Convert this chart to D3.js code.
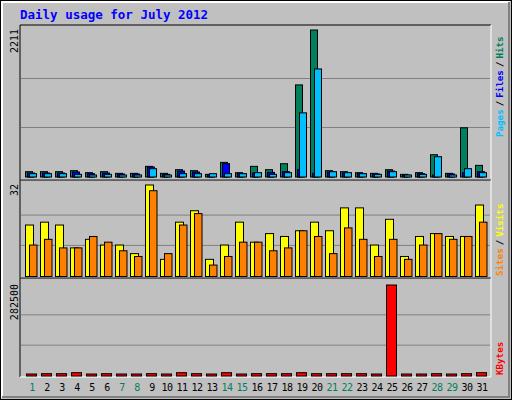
<!DOCTYPE html><html><head><meta charset="utf-8">
<script src="https://cdn.jsdelivr.net/npm/d3@7/dist/d3.min.js"></script>
<style>body{margin:0;background:#fff}text{font-family:"DejaVu Sans Mono",monospace}</style></head><body>
<svg id="c" width="512" height="400"></svg>
<script>
const days = d3.range(1,32);
const weekend = [1,7,8,14,15,21,22,28,29];
const hits  = [80,80,80,95,65,80,55,55,160,55,110,95,40,220,65,160,110,200,1385,2211,95,80,65,55,110,40,65,335,55,740,175];
const files = [60,60,60,75,50,60,45,45,150,40,90,75,35,200,50,60,70,80,110,55,75,60,50,45,90,30,50,30,45,65,80];
const pages = [50,50,50,40,30,40,30,30,125,15,50,50,50,50,50,65,40,65,965,1625,80,65,50,40,80,15,40,305,30,125,65];
const visits = [18,19,18,10,13,11,11,8,32,6,19,23,6,11,19,12,15,14,16,19,16,24,24,11,20,7,14,15,14,14,25];
const sites  = [11,13,10,10,14,12,9,7,30,8,18,22,4,7,12,12,9,10,16,14,8,17,13,7,13,6,11,15,13,14,19];
const kbytes = [4000,7200,7200,10300,4000,7200,4000,4000,7200,4000,10300,7200,4000,10300,4000,7200,7200,7200,10300,7200,7200,7200,7200,4000,282500,4000,4000,7200,4000,7200,10300];
const yLabels = {top:"2211", mid:"32", bot:"282500"};

const svg = d3.select("#c");
svg.append("rect").attr("x",0.5).attr("y",0.5).attr("width",511).attr("height",399).attr("fill","#c0c0c0").attr("stroke","#000");
svg.append("path").attr("d","M2,398V2H510").attr("stroke","#fff").attr("fill","none").attr("stroke-width",2);
svg.append("path").attr("d","M2,397H509V2").attr("stroke","#808080").attr("fill","none").attr("stroke-width",2);
svg.append("text").attr("x",20).attr("y",19).attr("fill","#0000ff").attr("font-size",12.5).attr("font-weight","bold").text("Daily usage for July 2012");

const x = d3.scaleBand().domain(days).range([25,25+31*15]).paddingInner(0);
function panel(y0,y1){
  svg.append("rect").attr("x",20).attr("y",y0).attr("width",471).attr("height",y1-y0).attr("fill","#c0c0c0");
  svg.append("path").attr("d",`M20,${y1}V${y0}H491`).attr("stroke","#000").attr("fill","none");
  svg.append("path").attr("d",`M20,${y1}H491V${y0}`).attr("stroke","#fff").attr("fill","none");
}
function grid(y,vals){vals.forEach(v=>svg.append("line").attr("x1",21).attr("x2",490).attr("y1",y(v)).attr("y2",y(v)).attr("stroke","#808080"));}
function bars(data,y,off,w,col){
  svg.append("g").selectAll("rect").data(data).join("rect")
    .attr("x",(d,i)=>x(days[i])+off+0.5).attr("width",w)
    .attr("y",d=>Math.min(y(d),y(0)-2)+0.5).attr("height",d=>Math.max(y(0)-y(d),2))
    .attr("fill",col).attr("stroke","#000");
}
function rlabel(x0,y0,txt,anchor){
  svg.append("text").attr("transform",`translate(${x0},${y0}) rotate(-90)`).attr("font-size",10).attr("text-anchor",anchor).attr("fill","#000").text(txt);
}
// top
panel(25,180);
const yT = d3.scaleLinear().domain([0,2211]).range([176.5,29.5]);
grid(yT,[737,1474]);
bars(hits,yT,0,7,"#00805c");
bars(files,yT,2,7,"#0000ff");
bars(pages,yT,4,7,"#00c0ff");
rlabel(18,29,yLabels.top,"end");
const lt = svg.append("text").attr("transform","translate(503,137) rotate(-90)").attr("font-size",9.2).attr("font-weight","bold");
lt.append("tspan").attr("fill","#00c0ff").text("Pages");
lt.append("tspan").attr("fill","#000").text("/");
lt.append("tspan").attr("fill","#0000ff").text("Files");
lt.append("tspan").attr("fill","#000").text("/");
lt.append("tspan").attr("fill","#00805c").text("Hits");
lt.selectAll("tspan").attr("dx",(d,i)=>i?3:0);
// middle
panel(180,278);
const yM = d3.scaleLinear().domain([0,32]).range([276,184.5]);
grid(yM,[10.7,21.3]);
bars(visits,yM,0,8,"#ffff00");
bars(sites,yM,4,7.5,"#ff8000");
rlabel(18,184,yLabels.mid,"end");
const lm = svg.append("text").attr("transform","translate(503,276) rotate(-90)").attr("font-size",9.2).attr("font-weight","bold");
lm.append("tspan").attr("fill","#ff8000").text("Sites");
lm.append("tspan").attr("fill","#000").attr("dx",3).text("/");
lm.append("tspan").attr("fill","#ffff00").attr("dx",3).text("Visits");
// bottom
panel(278,377);
const yB = d3.scaleLinear().domain([0,282500]).range([375.5,284.5]);
grid(yB,[94200,188300]);
bars(kbytes,yB,1,10,"#ff0000");
rlabel(18,284,yLabels.bot,"end");
svg.append("text").attr("transform","translate(503,375) rotate(-90)").attr("font-size",9.2).attr("font-weight","bold").attr("fill","#ff0000").text("KBytes");
// x labels
svg.append("g").selectAll("text").data(days).join("text")
  .attr("x",d=>x(d)+7).attr("y",391).attr("text-anchor","middle").attr("font-size",10).attr("letter-spacing",-0.6)
  .attr("fill",d=>weekend.includes(d)?"#00805c":"#000").text(d=>d);
</script></body></html>
